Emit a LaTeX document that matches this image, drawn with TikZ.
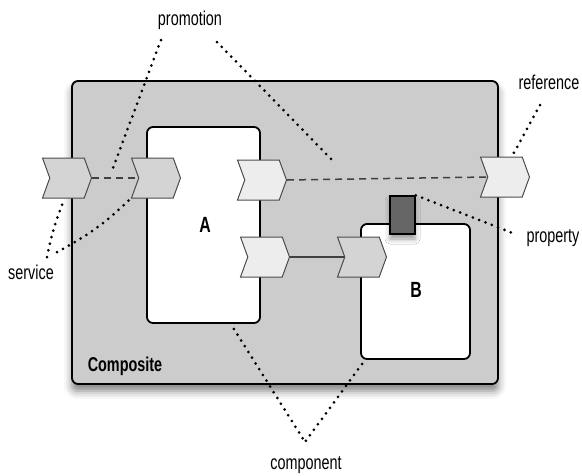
\documentclass[tikz,border=0pt]{standalone}
\usepackage{fontspec}
\setmainfont{Liberation Sans}[FakeStretch=0.72]
\usetikzlibrary{shapes}
\usetikzlibrary{shadows.blur}
\usetikzlibrary{calc}

\begin{document}
\begin{tikzpicture}[x=1pt,y=-1pt,
  box/.style={draw, line width=1.8pt, rounded corners=6pt, fill=white, inner sep=0pt},
  port/.style={signal, signal from=west, signal to=east, signal pointer angle=140,
    draw=black!70, line width=1pt, minimum width=49pt, minimum height=40pt, inner sep=0pt},
  svc/.style={port, fill=black!17},
  ref/.style={port, fill=black!7},
  wire/.style={black!75, line width=1.5pt},
  callout/.style={line width=3pt, dash pattern=on 0pt off 6.8pt, line cap=round},
  lbl/.style={font=\fontsize{20}{22}\selectfont, inner sep=1pt},
  big/.style={font=\fontsize{22}{24}\selectfont\bfseries}
]
\useasboundingbox (0,0) rectangle (582,475);
% composite and its components
\node[box, fill=black!20, minimum width=426pt, minimum height=303pt,
  blur shadow={shadow xshift=0pt, shadow yshift=-7pt, shadow blur radius=8pt, shadow opacity=50}](comp) at (285,232.5) {};
\node[font=\fontsize{20}{22}\selectfont\bfseries](compname) at (125,366) {Composite};
\node[box, minimum width=113pt, minimum height=196pt](A) at (203.5,225) {};
\node[box, minimum width=109pt, minimum height=135pt](B) at (415.5,291.5) {};
\node[big](Aname) at (205,225) {A};
\node[big](Bname) at (416,290) {B};
% services and references
\node[svc](csvc) at (67,178) {};
\node[svc](asvc) at (156,178) {};
\node[ref](aref) at (262,180) {};
\node[ref](aref2) at (265,257) {};
\node[svc](bsvc) at (362,257) {};
\node[ref](cref) at (505,177) {};
\node[draw, line width=1.5pt, fill=black!60, minimum width=25pt, minimum height=38pt, inner sep=0pt,
  blur shadow={shadow xshift=0pt, shadow yshift=-5pt, shadow blur radius=5pt}](prop) at (402.5,215) {};
% wires
\draw[wire, dash pattern=on 7pt off 5pt] (csvc.east) -- (asvc.west);
\draw[wire, dash pattern=on 7pt off 5pt] (aref.east) -- (cref.west);
\draw[wire] (aref2.east) -- (bsvc.west);
% labels
\node[lbl](promotion) at (190,20) {promotion};
\node[lbl](service) at (31,272) {service};
\node[lbl](reference) at (549,82) {reference};
\node[lbl](property) at (553,238) {property};
\node[lbl](component) at (306,465) {component};
% callouts
\coordinate (promoL) at (161,40);
\coordinate (promoR) at (217,42);
\coordinate (promoIn) at (113,168);
\coordinate (promoOut) at (332,160);
\coordinate (svcL) at (47,257);
\coordinate (svcR) at (57,252);
\coordinate (refTop) at (540,105);
\coordinate (compTip) at (305,442);
\draw[callout] (promoL) -- (promoIn);
\draw[callout] (promoR) -- (promoOut);
\draw[callout] (svcL) to[bend left=5] ($(csvc.south)+(-4,4)$);
\draw[callout] (svcR) to[bend right=8] (asvc.south west);
\draw[callout] (refTop) -- ($(cref.north)+(8,-2)$);
\draw[callout, shorten >=14pt] (prop.north east) -- (property.west);
\draw[callout] ($(A.south east)+(-27,5)$) -- (compTip);
\draw[callout] ($(B.south west)+(2,4)$) -- (compTip);
\end{tikzpicture}
\end{document}
